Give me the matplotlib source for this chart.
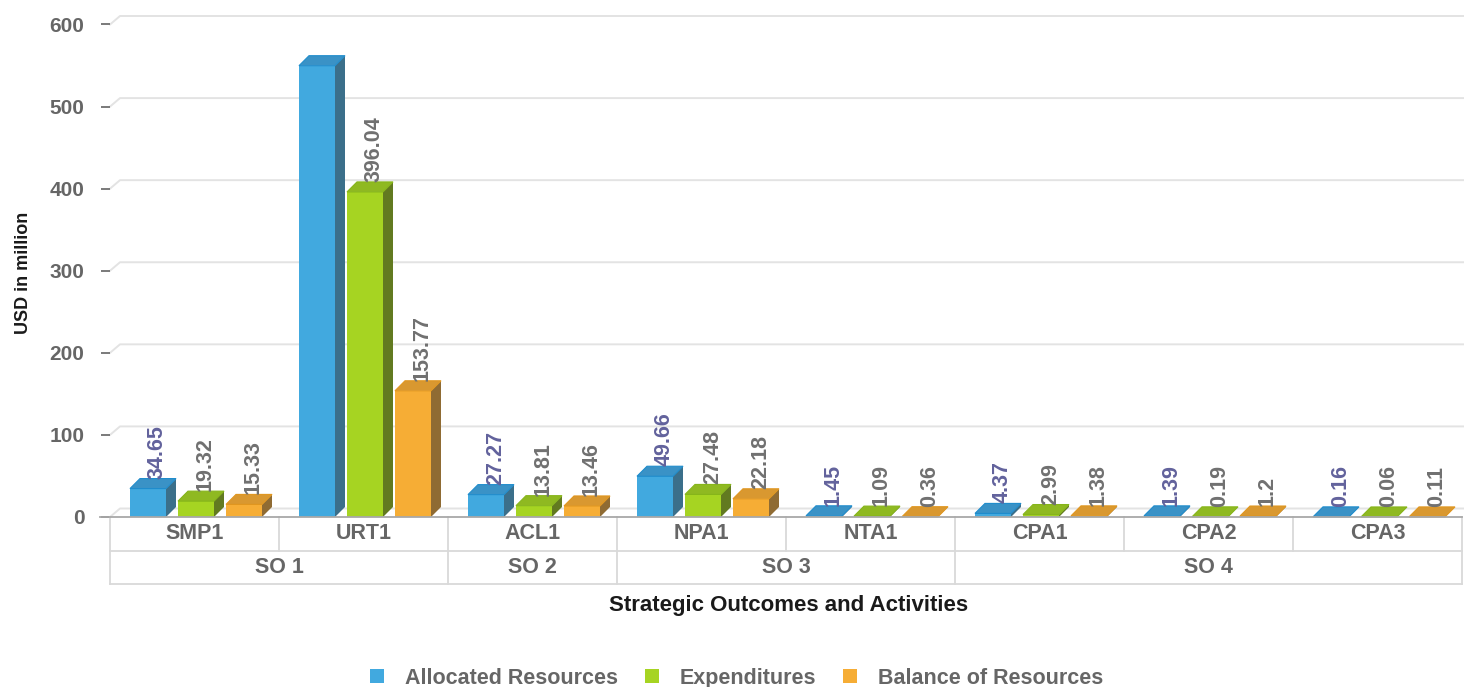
import matplotlib
matplotlib.use("Agg")
import matplotlib.pyplot as plt
from matplotlib.patches import Rectangle, Polygon, Patch

plt.rcParams['font.family'] = ['Liberation Sans', 'DejaVu Sans']

# data
categories = ['SMP1', 'URT1', 'ACL1', 'NPA1', 'NTA1', 'CPA1', 'CPA2', 'CPA3']
groups = ['SO 1', 'SO 1', 'SO 2', 'SO 3', 'SO 3', 'SO 4', 'SO 4', 'SO 4']
allocated = [34.65, 549.81, 27.27, 49.66, 1.45, 4.37, 1.39, 0.16]
expenditures = [19.32, 396.04, 13.81, 27.48, 1.09, 2.99, 0.19, 0.06]
balance = [15.33, 153.77, 13.46, 22.18, 0.36, 1.38, 1.2, 0.11]
series_names = ['Allocated Resources', 'Expenditures', 'Balance of Resources']
y_ticks = [0, 100, 200, 300, 400, 500, 600]

# front / top / side / top-edge colours
colors = [
    ('#41a9df', '#3a92c6', '#3b6f8a', '#1f8ccc'),
    ('#a6d422', '#8fb921', '#627a20', '#86b51a'),
    ('#f6ad35', '#d99830', '#8f6b33', '#e0961f'),
]
label_colors = ['#62629c', '#707070', '#707070']

W, H = 1464, 687
fig = plt.figure(figsize=(W / 100, H / 100), dpi=100)

# plot area in pixels
px_left, px_right = 110, 1462
px_zero, px_top = 517, 24.5
ax = fig.add_axes([px_left / W, 1 - px_zero / H,
                   (px_right - px_left) / W, (px_zero - px_top) / H])
ax.set_xlim(-0.5, len(categories) - 0.5)
ax.set_ylim(0, 600)
for s in ax.spines.values():
    s.set_visible(False)
ax.set_xticks([])
ax.set_yticks(y_ticks)
ax.tick_params(axis='y', length=6.5, width=1.3, color='#707070', pad=12,
               labelsize=15, labelcolor='#666666')
for lbl in ax.get_yticklabels():
    lbl.set_fontweight('bold')

# pixel -> data conversions for the 3d depth
xpx = (px_right - px_left) / len(categories)
ypx = (px_zero - px_top) / 600
dx = 10 / xpx
dy_bar = 10 / ypx
dy_grid = 8.5 / ypx

# back-wall grid lines
x0, x1 = -0.5, len(categories) - 0.5
for v in y_ticks:
    ax.plot([x0, x0 + dx, x1 + dx + 0.1], [v, v + dy_grid, v + dy_grid],
            color='#e3e3e3', lw=1.4, clip_on=False, zorder=1)

bar_w = 36 / xpx
pitch = 48 / xpx
series = [allocated, expenditures, balance]
for si, vals in enumerate(series):
    front, top, side, edge = colors[si]
    for i, v in enumerate(vals):
        xl = i + (si - 1) * pitch - bar_w / 2 + 1.5 / xpx
        xr = xl + bar_w
        ax.add_patch(Polygon([(xr, 0), (xr + dx, dy_bar), (xr + dx, v + dy_bar), (xr, v)],
                             closed=True, facecolor=side, edgecolor='none',
                             clip_on=False, zorder=3))
        ax.add_patch(Rectangle((xl, 0), bar_w, v, facecolor=front, edgecolor='none',
                               clip_on=False, zorder=4))
        ax.add_patch(Polygon([(xl, v), (xr, v), (xr + dx, v + dy_bar), (xl + dx, v + dy_bar)],
                             closed=True, facecolor=top, edgecolor=edge, lw=0.8,
                             clip_on=False, zorder=5))
        # labels that would run off the top are hidden, as in the source chart
        if v > 500:
            continue
        ax.text((xl + xr) / 2 + dx - 0.5 / xpx, v + dy_bar, f"{v:g}", rotation=90,
                ha='center', va='bottom', fontsize=15.5, fontweight='bold',
                color=label_colors[si], zorder=6, clip_on=False)

# category table below the plot
row1, row2 = 551, 584
tax = fig.add_axes([px_left / W, 1 - row2 / H,
                    (px_right - px_left) / W, (row2 - px_zero) / H])
tax.set_xlim(x0, x1)
tax.set_ylim(2, 0)
tax.axis('off')
line_kw = dict(color='#d9d9d9', lw=1.3, clip_on=False)
for yy in (1, 2):
    tax.plot([x0, x1], [yy, yy], **line_kw)
tax.plot([x0 - 0.06, x1], [0, 0], color='#a8a8a8', lw=1.3, clip_on=False, zorder=3)
tax.plot([x0, x0], [0, 2], **line_kw)
tax.plot([x1, x1], [0, 2], **line_kw)
for i, name in enumerate(categories):
    if i > 0:
        tax.plot([i - 0.5, i - 0.5], [0, 1], **line_kw)
    tax.text(i, 0.5, name, ha='center', va='center', fontsize=15.5,
             fontweight='bold', color='#666666')
start = 0
for i in range(1, len(groups) + 1):
    if i == len(groups) or groups[i] != groups[start]:
        if i < len(groups):
            tax.plot([i - 0.5, i - 0.5], [1, 2], **line_kw)
        tax.text((start + i - 1) / 2, 1.5, groups[start], ha='center', va='center',
                 fontsize=15.5, fontweight='bold', color='#666666')
        start = i

# axis titles
fig.text(789 / W, 1 - 605 / H, 'Strategic Outcomes and Activities', ha='center',
         va='center', fontsize=16, fontweight='bold', color='#1a1a1a')
fig.text(24 / W, 1 - 273 / H, 'USD in million', ha='center', va='center',
         rotation=90, fontsize=13, fontweight='bold', color='#1a1a1a')

# legend
handles = [Patch(facecolor=c[0], edgecolor='none') for c in colors]
leg = fig.legend(handles, series_names, loc='center', ncol=3,
                 bbox_to_anchor=(737 / W, 1 - 678.5 / H), frameon=False,
                 handlelength=0.62, handleheight=0.62, handletextpad=1.0,
                 columnspacing=1.25, prop=dict(size=15.5, weight='bold'))
for t in leg.get_texts():
    t.set_color('#666666')

fig.savefig('out.png', dpi=100)
